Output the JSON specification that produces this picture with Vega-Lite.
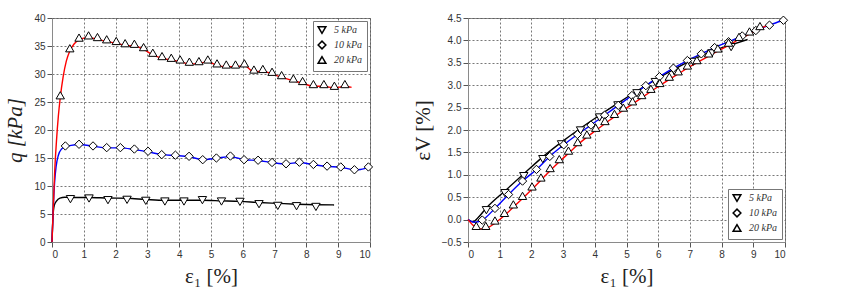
{
  "$schema": "https://vega.github.io/schema/vega-lite/v6.json",
  "padding": {"left": 4, "top": 12, "right": 5, "bottom": 5},
  "background": "white",
  "datasets": {
    "qLines": [
      {"c": "5 kPa", "x": 0, "y": 0}, {"c": "5 kPa", "x": 0.03, "y": 4.5}, {"c": "5 kPa", "x": 0.07, "y": 6.5}, {"c": "5 kPa", "x": 0.14, "y": 7.3}, {"c": "5 kPa", "x": 0.25, "y": 7.85}, {"c": "5 kPa", "x": 0.4, "y": 8.0}, {"c": "5 kPa", "x": 0.58, "y": 7.95}, {"c": "5 kPa", "x": 1.165, "y": 7.95}, {"c": "5 kPa", "x": 1.76, "y": 7.85}, {"c": "5 kPa", "x": 2.36, "y": 7.8}, {"c": "5 kPa", "x": 2.95, "y": 7.6}, {"c": "5 kPa", "x": 3.55, "y": 7.45}, {"c": "5 kPa", "x": 4.15, "y": 7.45}, {"c": "5 kPa", "x": 4.73, "y": 7.45}, {"c": "5 kPa", "x": 5.33, "y": 7.35}, {"c": "5 kPa", "x": 5.91, "y": 7.25}, {"c": "5 kPa", "x": 6.51, "y": 7.05}, {"c": "5 kPa", "x": 7.1, "y": 6.9}, {"c": "5 kPa", "x": 7.69, "y": 6.75}, {"c": "5 kPa", "x": 8.3, "y": 6.65}, {"c": "5 kPa", "x": 8.87, "y": 6.62},
      {"c": "10 kPa", "x": 0, "y": 0}, {"c": "10 kPa", "x": 0.04, "y": 6}, {"c": "10 kPa", "x": 0.08, "y": 10.5}, {"c": "10 kPa", "x": 0.13, "y": 13.5}, {"c": "10 kPa", "x": 0.2, "y": 15.5}, {"c": "10 kPa", "x": 0.3, "y": 16.6}, {"c": "10 kPa", "x": 0.42, "y": 17.0}, {"c": "10 kPa", "x": 0.6, "y": 17.25}, {"c": "10 kPa", "x": 0.85, "y": 17.4}, {"c": "10 kPa", "x": 1.29, "y": 17.1}, {"c": "10 kPa", "x": 1.72, "y": 16.8}, {"c": "10 kPa", "x": 2.15, "y": 16.8}, {"c": "10 kPa", "x": 2.59, "y": 16.5}, {"c": "10 kPa", "x": 3.02, "y": 16.1}, {"c": "10 kPa", "x": 3.45, "y": 15.6}, {"c": "10 kPa", "x": 3.88, "y": 15.45}, {"c": "10 kPa", "x": 4.31, "y": 15.25}, {"c": "10 kPa", "x": 4.74, "y": 14.7}, {"c": "10 kPa", "x": 5.17, "y": 14.95}, {"c": "10 kPa", "x": 5.61, "y": 15.25}, {"c": "10 kPa", "x": 6.04, "y": 14.7}, {"c": "10 kPa", "x": 6.48, "y": 14.55}, {"c": "10 kPa", "x": 6.92, "y": 14.2}, {"c": "10 kPa", "x": 7.36, "y": 13.95}, {"c": "10 kPa", "x": 7.78, "y": 14.2}, {"c": "10 kPa", "x": 8.22, "y": 13.8}, {"c": "10 kPa", "x": 8.65, "y": 13.5}, {"c": "10 kPa", "x": 9.08, "y": 13.35}, {"c": "10 kPa", "x": 9.51, "y": 12.9}, {"c": "10 kPa", "x": 9.7, "y": 12.95}, {"c": "10 kPa", "x": 10.0, "y": 13.4},
      {"c": "20 kPa", "x": 0, "y": 0}, {"c": "20 kPa", "x": 0.04, "y": 6}, {"c": "20 kPa", "x": 0.08, "y": 12}, {"c": "20 kPa", "x": 0.14, "y": 18}, {"c": "20 kPa", "x": 0.2, "y": 22.5}, {"c": "20 kPa", "x": 0.26, "y": 25.8}, {"c": "20 kPa", "x": 0.35, "y": 29.5}, {"c": "20 kPa", "x": 0.45, "y": 32.3}, {"c": "20 kPa", "x": 0.56, "y": 34.1}, {"c": "20 kPa", "x": 0.7, "y": 35.4}, {"c": "20 kPa", "x": 0.85, "y": 36.1}, {"c": "20 kPa", "x": 1.0, "y": 36.4}, {"c": "20 kPa", "x": 1.15, "y": 36.5}, {"c": "20 kPa", "x": 1.43, "y": 36.2}, {"c": "20 kPa", "x": 1.72, "y": 35.8}, {"c": "20 kPa", "x": 2.02, "y": 35.5}, {"c": "20 kPa", "x": 2.3, "y": 35.1}, {"c": "20 kPa", "x": 2.59, "y": 35.0}, {"c": "20 kPa", "x": 2.88, "y": 34.4}, {"c": "20 kPa", "x": 3.17, "y": 33.4}, {"c": "20 kPa", "x": 3.46, "y": 32.8}, {"c": "20 kPa", "x": 3.75, "y": 32.5}, {"c": "20 kPa", "x": 4.03, "y": 32.2}, {"c": "20 kPa", "x": 4.32, "y": 31.8}, {"c": "20 kPa", "x": 4.62, "y": 31.9}, {"c": "20 kPa", "x": 4.9, "y": 32.2}, {"c": "20 kPa", "x": 5.19, "y": 31.5}, {"c": "20 kPa", "x": 5.48, "y": 31.3}, {"c": "20 kPa", "x": 5.77, "y": 31.3}, {"c": "20 kPa", "x": 6.05, "y": 31.5}, {"c": "20 kPa", "x": 6.35, "y": 30.4}, {"c": "20 kPa", "x": 6.63, "y": 30.5}, {"c": "20 kPa", "x": 6.92, "y": 30.0}, {"c": "20 kPa", "x": 7.22, "y": 29.4}, {"c": "20 kPa", "x": 7.59, "y": 28.8}, {"c": "20 kPa", "x": 7.88, "y": 28.35}, {"c": "20 kPa", "x": 8.22, "y": 27.8}, {"c": "20 kPa", "x": 8.55, "y": 27.8}, {"c": "20 kPa", "x": 8.88, "y": 27.5}, {"c": "20 kPa", "x": 9.21, "y": 27.8}, {"c": "20 kPa", "x": 9.42, "y": 27.6}
    ],
    "qPts": [
      {"s": "5 kPa", "x": 0.58, "y": 7.65}, {"s": "5 kPa", "x": 1.165, "y": 7.77}, {"s": "5 kPa", "x": 1.76, "y": 7.47}, {"s": "5 kPa", "x": 2.36, "y": 7.53}, {"s": "5 kPa", "x": 2.95, "y": 7.35}, {"s": "5 kPa", "x": 3.55, "y": 7.23}, {"s": "5 kPa", "x": 4.15, "y": 7.23}, {"s": "5 kPa", "x": 4.73, "y": 7.47}, {"s": "5 kPa", "x": 5.33, "y": 7.23}, {"s": "5 kPa", "x": 5.91, "y": 7.17}, {"s": "5 kPa", "x": 6.51, "y": 6.75}, {"s": "5 kPa", "x": 7.1, "y": 6.45}, {"s": "5 kPa", "x": 7.69, "y": 6.39}, {"s": "5 kPa", "x": 8.3, "y": 6.26},
      {"s": "10 kPa", "x": 0.42, "y": 17.15}, {"s": "10 kPa", "x": 0.85, "y": 17.45}, {"s": "10 kPa", "x": 1.29, "y": 17.15}, {"s": "10 kPa", "x": 1.72, "y": 16.85}, {"s": "10 kPa", "x": 2.15, "y": 16.85}, {"s": "10 kPa", "x": 2.59, "y": 16.6}, {"s": "10 kPa", "x": 3.02, "y": 16.2}, {"s": "10 kPa", "x": 3.45, "y": 15.6}, {"s": "10 kPa", "x": 3.88, "y": 15.5}, {"s": "10 kPa", "x": 4.31, "y": 15.3}, {"s": "10 kPa", "x": 4.74, "y": 14.7}, {"s": "10 kPa", "x": 5.17, "y": 15.0}, {"s": "10 kPa", "x": 5.61, "y": 15.35}, {"s": "10 kPa", "x": 6.04, "y": 14.7}, {"s": "10 kPa", "x": 6.48, "y": 14.6}, {"s": "10 kPa", "x": 6.92, "y": 14.2}, {"s": "10 kPa", "x": 7.36, "y": 13.97}, {"s": "10 kPa", "x": 7.78, "y": 14.25}, {"s": "10 kPa", "x": 8.22, "y": 13.85}, {"s": "10 kPa", "x": 8.65, "y": 13.55}, {"s": "10 kPa", "x": 9.08, "y": 13.4}, {"s": "10 kPa", "x": 9.51, "y": 12.9}, {"s": "10 kPa", "x": 9.95, "y": 13.4},
      {"s": "20 kPa", "x": 0.26, "y": 26.2}, {"s": "20 kPa", "x": 0.56, "y": 34.6}, {"s": "20 kPa", "x": 0.85, "y": 36.5}, {"s": "20 kPa", "x": 1.15, "y": 36.9}, {"s": "20 kPa", "x": 1.43, "y": 36.6}, {"s": "20 kPa", "x": 1.72, "y": 36.2}, {"s": "20 kPa", "x": 2.02, "y": 35.9}, {"s": "20 kPa", "x": 2.3, "y": 35.5}, {"s": "20 kPa", "x": 2.59, "y": 35.4}, {"s": "20 kPa", "x": 2.88, "y": 34.8}, {"s": "20 kPa", "x": 3.17, "y": 33.8}, {"s": "20 kPa", "x": 3.46, "y": 33.2}, {"s": "20 kPa", "x": 3.75, "y": 32.9}, {"s": "20 kPa", "x": 4.03, "y": 32.6}, {"s": "20 kPa", "x": 4.32, "y": 32.2}, {"s": "20 kPa", "x": 4.62, "y": 32.3}, {"s": "20 kPa", "x": 4.9, "y": 32.6}, {"s": "20 kPa", "x": 5.19, "y": 31.9}, {"s": "20 kPa", "x": 5.48, "y": 31.7}, {"s": "20 kPa", "x": 5.77, "y": 31.7}, {"s": "20 kPa", "x": 6.05, "y": 31.9}, {"s": "20 kPa", "x": 6.35, "y": 30.8}, {"s": "20 kPa", "x": 6.63, "y": 30.9}, {"s": "20 kPa", "x": 6.92, "y": 30.4}, {"s": "20 kPa", "x": 7.22, "y": 29.8}, {"s": "20 kPa", "x": 7.59, "y": 29.2}, {"s": "20 kPa", "x": 7.88, "y": 28.75}, {"s": "20 kPa", "x": 8.22, "y": 28.2}, {"s": "20 kPa", "x": 8.55, "y": 28.2}, {"s": "20 kPa", "x": 8.88, "y": 27.9}, {"s": "20 kPa", "x": 9.21, "y": 28.2}
    ],
    "vLines": [
      {"c": "5 kPa", "x": 0, "y": 0}, {"c": "5 kPa", "x": 0.15, "y": -0.05}, {"c": "5 kPa", "x": 0.3, "y": 0.03}, {"c": "5 kPa", "x": 0.58, "y": 0.26}, {"c": "5 kPa", "x": 1.165, "y": 0.64}, {"c": "5 kPa", "x": 1.76, "y": 1.02}, {"c": "5 kPa", "x": 2.36, "y": 1.4}, {"c": "5 kPa", "x": 2.95, "y": 1.73}, {"c": "5 kPa", "x": 3.55, "y": 2.04}, {"c": "5 kPa", "x": 4.15, "y": 2.33}, {"c": "5 kPa", "x": 4.73, "y": 2.6}, {"c": "5 kPa", "x": 5.33, "y": 2.87}, {"c": "5 kPa", "x": 5.91, "y": 3.12}, {"c": "5 kPa", "x": 6.51, "y": 3.36}, {"c": "5 kPa", "x": 7.1, "y": 3.57}, {"c": "5 kPa", "x": 7.69, "y": 3.76}, {"c": "5 kPa", "x": 8.3, "y": 3.9}, {"c": "5 kPa", "x": 8.82, "y": 4.02},
      {"c": "10 kPa", "x": 0, "y": 0}, {"c": "10 kPa", "x": 0.2, "y": -0.06}, {"c": "10 kPa", "x": 0.45, "y": -0.01}, {"c": "10 kPa", "x": 0.85, "y": 0.25}, {"c": "10 kPa", "x": 1.28, "y": 0.56}, {"c": "10 kPa", "x": 1.72, "y": 0.86}, {"c": "10 kPa", "x": 2.16, "y": 1.12}, {"c": "10 kPa", "x": 2.58, "y": 1.41}, {"c": "10 kPa", "x": 3.02, "y": 1.67}, {"c": "10 kPa", "x": 3.45, "y": 1.9}, {"c": "10 kPa", "x": 3.88, "y": 2.11}, {"c": "10 kPa", "x": 4.31, "y": 2.33}, {"c": "10 kPa", "x": 4.74, "y": 2.55}, {"c": "10 kPa", "x": 5.17, "y": 2.77}, {"c": "10 kPa", "x": 5.61, "y": 2.99}, {"c": "10 kPa", "x": 6.04, "y": 3.19}, {"c": "10 kPa", "x": 6.48, "y": 3.38}, {"c": "10 kPa", "x": 6.92, "y": 3.55}, {"c": "10 kPa", "x": 7.36, "y": 3.7}, {"c": "10 kPa", "x": 7.78, "y": 3.84}, {"c": "10 kPa", "x": 8.22, "y": 3.97}, {"c": "10 kPa", "x": 8.65, "y": 4.1}, {"c": "10 kPa", "x": 9.08, "y": 4.22}, {"c": "10 kPa", "x": 9.51, "y": 4.34}, {"c": "10 kPa", "x": 9.95, "y": 4.45}, {"c": "10 kPa", "x": 10.0, "y": 4.46},
      {"c": "20 kPa", "x": 0, "y": 0}, {"c": "20 kPa", "x": 0.15, "y": -0.12}, {"c": "20 kPa", "x": 0.3, "y": -0.19}, {"c": "20 kPa", "x": 0.45, "y": -0.21}, {"c": "20 kPa", "x": 0.6, "y": -0.19}, {"c": "20 kPa", "x": 0.85, "y": -0.08}, {"c": "20 kPa", "x": 1.15, "y": 0.09}, {"c": "20 kPa", "x": 1.43, "y": 0.28}, {"c": "20 kPa", "x": 1.72, "y": 0.47}, {"c": "20 kPa", "x": 2.02, "y": 0.68}, {"c": "20 kPa", "x": 2.3, "y": 0.88}, {"c": "20 kPa", "x": 2.59, "y": 1.09}, {"c": "20 kPa", "x": 2.88, "y": 1.29}, {"c": "20 kPa", "x": 3.17, "y": 1.48}, {"c": "20 kPa", "x": 3.46, "y": 1.67}, {"c": "20 kPa", "x": 3.75, "y": 1.84}, {"c": "20 kPa", "x": 4.03, "y": 1.99}, {"c": "20 kPa", "x": 4.32, "y": 2.14}, {"c": "20 kPa", "x": 4.62, "y": 2.3}, {"c": "20 kPa", "x": 4.9, "y": 2.44}, {"c": "20 kPa", "x": 5.19, "y": 2.58}, {"c": "20 kPa", "x": 5.48, "y": 2.72}, {"c": "20 kPa", "x": 5.77, "y": 2.86}, {"c": "20 kPa", "x": 6.05, "y": 2.99}, {"c": "20 kPa", "x": 6.35, "y": 3.13}, {"c": "20 kPa", "x": 6.63, "y": 3.25}, {"c": "20 kPa", "x": 6.92, "y": 3.38}, {"c": "20 kPa", "x": 7.22, "y": 3.5}, {"c": "20 kPa", "x": 7.59, "y": 3.65}, {"c": "20 kPa", "x": 7.88, "y": 3.76}, {"c": "20 kPa", "x": 8.22, "y": 3.89}, {"c": "20 kPa", "x": 8.55, "y": 4.02}, {"c": "20 kPa", "x": 8.88, "y": 4.14}, {"c": "20 kPa", "x": 9.21, "y": 4.26}, {"c": "20 kPa", "x": 9.42, "y": 4.33}
    ],
    "vPts": [
      {"s": "5 kPa", "x": 0.58, "y": 0.21}, {"s": "5 kPa", "x": 1.165, "y": 0.59}, {"s": "5 kPa", "x": 1.76, "y": 0.97}, {"s": "5 kPa", "x": 2.36, "y": 1.35}, {"s": "5 kPa", "x": 2.95, "y": 1.68}, {"s": "5 kPa", "x": 3.55, "y": 1.99}, {"s": "5 kPa", "x": 4.15, "y": 2.28}, {"s": "5 kPa", "x": 4.73, "y": 2.55}, {"s": "5 kPa", "x": 5.33, "y": 2.82}, {"s": "5 kPa", "x": 5.91, "y": 3.07}, {"s": "5 kPa", "x": 6.51, "y": 3.31}, {"s": "5 kPa", "x": 7.1, "y": 3.52}, {"s": "5 kPa", "x": 7.69, "y": 3.71}, {"s": "5 kPa", "x": 8.3, "y": 3.85},
      {"s": "10 kPa", "x": 0.45, "y": -0.01}, {"s": "10 kPa", "x": 0.85, "y": 0.25}, {"s": "10 kPa", "x": 1.28, "y": 0.56}, {"s": "10 kPa", "x": 1.72, "y": 0.86}, {"s": "10 kPa", "x": 2.16, "y": 1.12}, {"s": "10 kPa", "x": 2.58, "y": 1.41}, {"s": "10 kPa", "x": 3.02, "y": 1.67}, {"s": "10 kPa", "x": 3.45, "y": 1.9}, {"s": "10 kPa", "x": 3.88, "y": 2.11}, {"s": "10 kPa", "x": 4.31, "y": 2.33}, {"s": "10 kPa", "x": 4.74, "y": 2.55}, {"s": "10 kPa", "x": 5.17, "y": 2.77}, {"s": "10 kPa", "x": 5.61, "y": 2.99}, {"s": "10 kPa", "x": 6.04, "y": 3.19}, {"s": "10 kPa", "x": 6.48, "y": 3.38}, {"s": "10 kPa", "x": 6.92, "y": 3.55}, {"s": "10 kPa", "x": 7.36, "y": 3.7}, {"s": "10 kPa", "x": 7.78, "y": 3.84}, {"s": "10 kPa", "x": 8.22, "y": 3.97}, {"s": "10 kPa", "x": 8.65, "y": 4.1}, {"s": "10 kPa", "x": 9.08, "y": 4.22}, {"s": "10 kPa", "x": 9.51, "y": 4.34}, {"s": "10 kPa", "x": 9.95, "y": 4.45},
      {"s": "20 kPa", "x": 0.26, "y": -0.14}, {"s": "20 kPa", "x": 0.56, "y": -0.14}, {"s": "20 kPa", "x": 0.85, "y": -0.02}, {"s": "20 kPa", "x": 1.15, "y": 0.15}, {"s": "20 kPa", "x": 1.43, "y": 0.34}, {"s": "20 kPa", "x": 1.72, "y": 0.53}, {"s": "20 kPa", "x": 2.02, "y": 0.74}, {"s": "20 kPa", "x": 2.3, "y": 0.94}, {"s": "20 kPa", "x": 2.59, "y": 1.15}, {"s": "20 kPa", "x": 2.88, "y": 1.35}, {"s": "20 kPa", "x": 3.17, "y": 1.54}, {"s": "20 kPa", "x": 3.46, "y": 1.73}, {"s": "20 kPa", "x": 3.75, "y": 1.9}, {"s": "20 kPa", "x": 4.03, "y": 2.05}, {"s": "20 kPa", "x": 4.32, "y": 2.2}, {"s": "20 kPa", "x": 4.62, "y": 2.36}, {"s": "20 kPa", "x": 4.9, "y": 2.5}, {"s": "20 kPa", "x": 5.19, "y": 2.64}, {"s": "20 kPa", "x": 5.48, "y": 2.78}, {"s": "20 kPa", "x": 5.77, "y": 2.92}, {"s": "20 kPa", "x": 6.05, "y": 3.05}, {"s": "20 kPa", "x": 6.35, "y": 3.19}, {"s": "20 kPa", "x": 6.63, "y": 3.31}, {"s": "20 kPa", "x": 6.92, "y": 3.44}, {"s": "20 kPa", "x": 7.22, "y": 3.56}, {"s": "20 kPa", "x": 7.59, "y": 3.71}, {"s": "20 kPa", "x": 7.88, "y": 3.82}, {"s": "20 kPa", "x": 8.22, "y": 3.95}, {"s": "20 kPa", "x": 8.55, "y": 4.08}, {"s": "20 kPa", "x": 8.88, "y": 4.2}, {"s": "20 kPa", "x": 9.21, "y": 4.32}
    ]
  },
  "config": {
    "view": {"stroke": "#8a8a8a", "strokeWidth": 1},
    "axis": {
      "labelFont": "Liberation Sans", "labelFontSize": 10, "labelColor": "#333333", "labelOverlap": false, "labelSeparation": 0,
      "titleFont": "Liberation Serif", "titleFontSize": 21, "titleFontWeight": "normal", "titleColor": "#222222",
      "gridColor": "#555555", "gridDash": [2, 2], "gridWidth": 0.8,
      "domainColor": "#8a8a8a", "tickColor": "#555555", "tickSize": 5, "labelPadding": 2
    },
    "legend": {
      "labelFont": "Liberation Serif", "labelFontStyle": "italic", "labelFontSize": 10, "labelColor": "#333333",
      "strokeColor": "#777777", "fillColor": "white", "padding": 4, "rowPadding": 1,
      "symbolSize": 60, "labelOffset": 7
    },
    "concat": {"spacing": 35}
  },
  "resolve": {"scale": {"shape": "independent"}, "legend": {"shape": "independent"}},
  "hconcat": [
    {
      "width": 318, "height": 224,
      "layer": [
        {
          "data": {"name": "qLines"},
          "mark": {"type": "line", "strokeWidth": 1.4, "interpolate": "monotone"},
          "encoding": {
            "x": {"field": "x", "type": "quantitative", "scale": {"domain": [0, 10]}, "axis": {"values": [0,1,2,3,4,5,6,7,8,9,10], "labelOverlap": false, "title": "ε₁ [%]", "titlePadding": 6}},
            "y": {"field": "y", "type": "quantitative", "scale": {"domain": [0, 40]}, "axis": {"values": [0,5,10,15,20,25,30,35,40], "labelOverlap": false, "title": "q [kPa]", "titleFontStyle": "italic", "titlePadding": 8}},
            "stroke": {"field": "c", "type": "nominal", "scale": {"domain": ["5 kPa", "10 kPa", "20 kPa"], "range": ["#000000", "#0000ff", "#ff0000"]}, "legend": null}
          }
        },
        {
          "data": {"name": "qPts"},
          "mark": {"type": "point", "color": "black", "fill": "white", "fillOpacity": 1, "strokeWidth": 1, "size": 70},
          "encoding": {
            "x": {"field": "x", "type": "quantitative", "axis": {"values": [0,1,2,3,4,5,6,7,8,9,10], "labelOverlap": false, "title": "ε₁ [%]", "titlePadding": 6}},
            "y": {"field": "y", "type": "quantitative", "axis": {"values": [0,5,10,15,20,25,30,35,40], "labelOverlap": false, "title": "q [kPa]", "titleFontStyle": "italic", "titlePadding": 8}},
            "shape": {"field": "s", "type": "nominal", "scale": {"domain": ["5 kPa", "10 kPa", "20 kPa"], "range": ["triangle-down", "diamond", "triangle-up"]}, "legend": {"title": null, "orient": "top-right", "offset": 3}}
          }
        }
      ]
    },
    {
      "width": 317, "height": 224,
      "layer": [
        {
          "data": {"name": "vLines"},
          "mark": {"type": "line", "strokeWidth": 1.4, "interpolate": "monotone"},
          "encoding": {
            "x": {"field": "x", "type": "quantitative", "scale": {"domain": [0, 10]}, "axis": {"values": [0,1,2,3,4,5,6,7,8,9,10], "labelOverlap": false, "title": "ε₁ [%]", "titlePadding": 6}},
            "y": {"field": "y", "type": "quantitative", "scale": {"domain": [-0.5, 4.5]}, "axis": {"values": [-0.5,0,0.5,1,1.5,2,2.5,3,3.5,4,4.5], "labelOverlap": false, "format": ".1f", "title": "εV [%]", "titlePadding": 8}},
            "stroke": {"field": "c", "type": "nominal", "scale": {"domain": ["5 kPa", "10 kPa", "20 kPa"], "range": ["#000000", "#0000ff", "#ff0000"]}, "legend": null}
          }
        },
        {
          "data": {"name": "vPts"},
          "mark": {"type": "point", "color": "black", "fill": "white", "fillOpacity": 1, "strokeWidth": 1, "size": 70},
          "encoding": {
            "x": {"field": "x", "type": "quantitative", "axis": {"values": [0,1,2,3,4,5,6,7,8,9,10], "labelOverlap": false, "title": "ε₁ [%]", "titlePadding": 6}},
            "y": {"field": "y", "type": "quantitative", "axis": {"values": [-0.5,0,0.5,1,1.5,2,2.5,3,3.5,4,4.5], "labelOverlap": false, "format": ".1f", "title": "εV [%]", "titlePadding": 8}},
            "shape": {"field": "s", "type": "nominal", "scale": {"domain": ["5 kPa", "10 kPa", "20 kPa"], "range": ["triangle-down", "diamond", "triangle-up"]}, "legend": {"title": null, "orient": "bottom-right", "offset": 3}}
          }
        }
      ]
    }
  ]
}
